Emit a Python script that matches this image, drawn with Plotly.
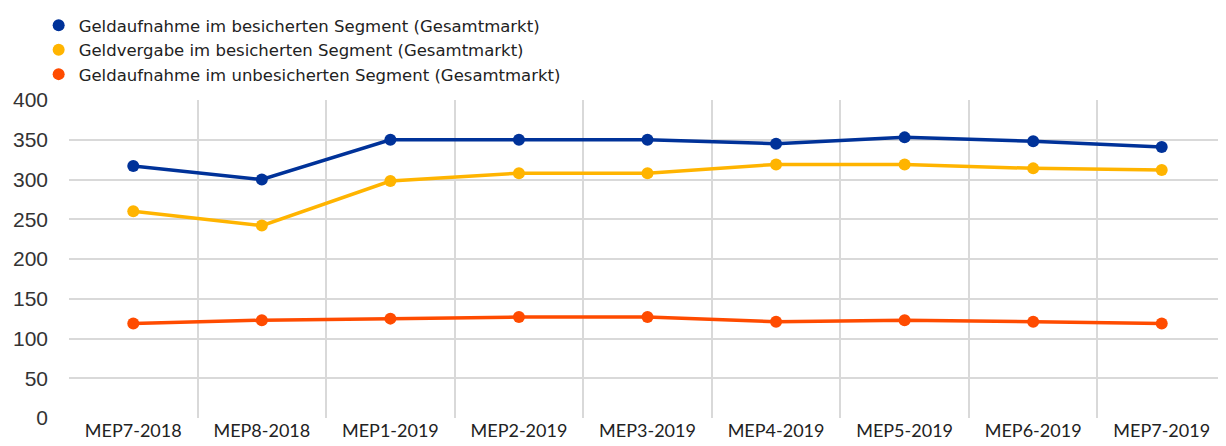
import plotly.graph_objects as go

categories = ["MEP7-2018", "MEP8-2018", "MEP1-2019", "MEP2-2019", "MEP3-2019",
              "MEP4-2019", "MEP5-2019", "MEP6-2019", "MEP7-2019"]
secured_borrowing = [317, 300, 350, 350, 350, 345, 353, 348, 341]
secured_lending = [260, 242, 298, 308, 308, 319, 319, 314, 312]
unsecured_borrowing = [119, 123, 125, 127, 127, 121, 123, 121, 119]

names = ["Geldaufnahme im besicherten Segment (Gesamtmarkt)",
         "Geldvergabe im besicherten Segment (Gesamtmarkt)",
         "Geldaufnahme im unbesicherten Segment (Gesamtmarkt)"]
colors = ["#003299", "#FFB400", "#FF4B00"]
series = [secured_borrowing, secured_lending, unsecured_borrowing]

fig = go.Figure()
for name, col, vals in zip(names, colors, series):
    fig.add_trace(go.Scatter(
        x=categories, y=vals, mode="lines+markers", name=name,
        line=dict(color=col, width=3.5), marker=dict(color=col, size=12),
        showlegend=False, hoverinfo="x+y"))
for name, col in zip(names, colors):
    fig.add_trace(go.Scatter(
        x=[None], y=[None], mode="markers", name=name,
        marker=dict(color=col, size=12)))

fig.update_layout(
    width=1226, height=446,
    margin=dict(l=61, r=8, t=92, b=36, autoexpand=False),
    plot_bgcolor="white", paper_bgcolor="white",
    legend=dict(x=0.025, y=1.025, xref="container", yref="container", xanchor="left", yanchor="top",
                font=dict(family="DejaVu Sans", size=16.5, color="#222222"),
                itemwidth=30, bgcolor="rgba(0,0,0,0)"),
    showlegend=True,
)
fig.update_xaxes(
    type="category", tickson="boundaries", showgrid=True, gridcolor="#d9d9d9", gridwidth=1.5,
    range=[-0.5, 8.5], ticks="", showline=False, zeroline=False,
    tickfont=dict(family="Lato, Carlito, sans-serif", size=18, color="#222222"),
)
fig.update_yaxes(
    range=[0, 400], dtick=50, showgrid=True, gridcolor="#d9d9d9", gridwidth=1.5,
    zeroline=False, showline=False, ticks="", ticklen=0, ticklabelstandoff=20,
    tickfont=dict(family="Liberation Sans, Arial", size=21, color="#333333"),
)

fig.write_html("out.html")
